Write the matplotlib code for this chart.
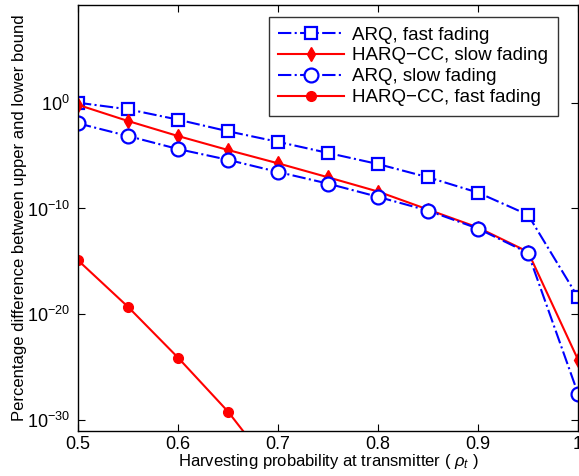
import numpy as np
import matplotlib
matplotlib.use('Agg')
import matplotlib.pyplot as plt
from matplotlib.ticker import LogFormatterMathtext, NullLocator

plt.rcParams['font.family'] = ['Liberation Sans', 'DejaVu Sans']
plt.rcParams['mathtext.fontset'] = 'custom'
plt.rcParams['mathtext.rm'] = 'Liberation Sans'
plt.rcParams['mathtext.it'] = 'Liberation Sans:italic'

rho = [0.5, 0.55, 0.6, 0.65, 0.7, 0.75, 0.8, 0.85, 0.9, 0.95, 1.0]
# log10 of the percentage difference
arq_fast = [0.0, -0.62, -1.6, -2.7, -3.7, -4.75, -5.8, -7.05, -8.5, -10.6, -18.4]
harq_slow = [-0.2, -1.73, -3.15, -4.47, -5.73, -7.05, -8.4, -10.1, -11.8, -14.1, -24.3]
arq_slow = [-1.95, -3.15, -4.38, -5.4, -6.55, -7.65, -8.9, -10.2, -11.9, -14.2, -27.5]
rho_hf = [0.5, 0.55, 0.6, 0.65, 0.7]
harq_fast = [-14.9, -19.3, -24.1, -29.2, -35.3]

fig = plt.figure(figsize=(5.79, 4.76), dpi=100)
ax = fig.add_axes([0.1347, 0.0945, 0.8636, 0.8955])

blue = '#0000ff'
red = '#ff0000'
ax.semilogy(rho, 10.0**np.array(arq_fast), '-.', color=blue, lw=1.5, marker='s',
            ms=8, mfc='white', mec=blue, mew=1.6, label='ARQ, fast fading')
ax.semilogy(rho, 10.0**np.array(harq_slow), '-', color=red, lw=1.5, marker='d',
            ms=7, mfc=red, mec=red, label='HARQ\u2212CC, slow fading')
ax.semilogy(rho, 10.0**np.array(arq_slow), '-.', color=blue, lw=1.5, marker='o',
            ms=10, mfc='white', mec=blue, mew=1.6, label='ARQ, slow fading')
ax.semilogy(rho_hf, 10.0**np.array(harq_fast), '-', color=red, lw=1.5, marker='o',
            ms=7, mfc=red, mec=red, label='HARQ\u2212CC, fast fading')

ax.set_xlim(0.5, 1.0)
ax.set_ylim(10**-31.04, 10**9.26)
ax.set_xticks([0.5, 0.6, 0.7, 0.8, 0.9, 1.0])
ax.set_xticklabels(['0.5', '0.6', '0.7', '0.8', '0.9', '1'])
ax.set_yticks([1e-30, 1e-20, 1e-10, 1e0])
ax.yaxis.set_major_formatter(LogFormatterMathtext())
ax.yaxis.set_minor_locator(NullLocator())
ax.tick_params(which='major', direction='in', length=5, width=0.8,
               top=True, right=True, labelsize=13)
ax.tick_params(axis='x', pad=3.5)
ax.tick_params(axis='y', pad=6)
for s in ax.spines.values():
    s.set_linewidth(1.0)

ax.set_xlabel('Harvesting probability at transmitter ( $\\rho_t$ )', fontsize=12, labelpad=-0.5)
ax.set_ylabel('Percentage difference between upper and lower bound', fontsize=12, labelpad=0)

leg = ax.legend(loc='upper right', bbox_to_anchor=(0.959, 0.971), fontsize=13.5,
                handlelength=3.5, frameon=True, fancybox=False, edgecolor='black',
                borderpad=0.5, labelspacing=0.2, handletextpad=0.43, borderaxespad=0)
leg.get_frame().set_linewidth(1.0)

fig.savefig('out.png', dpi=100)
